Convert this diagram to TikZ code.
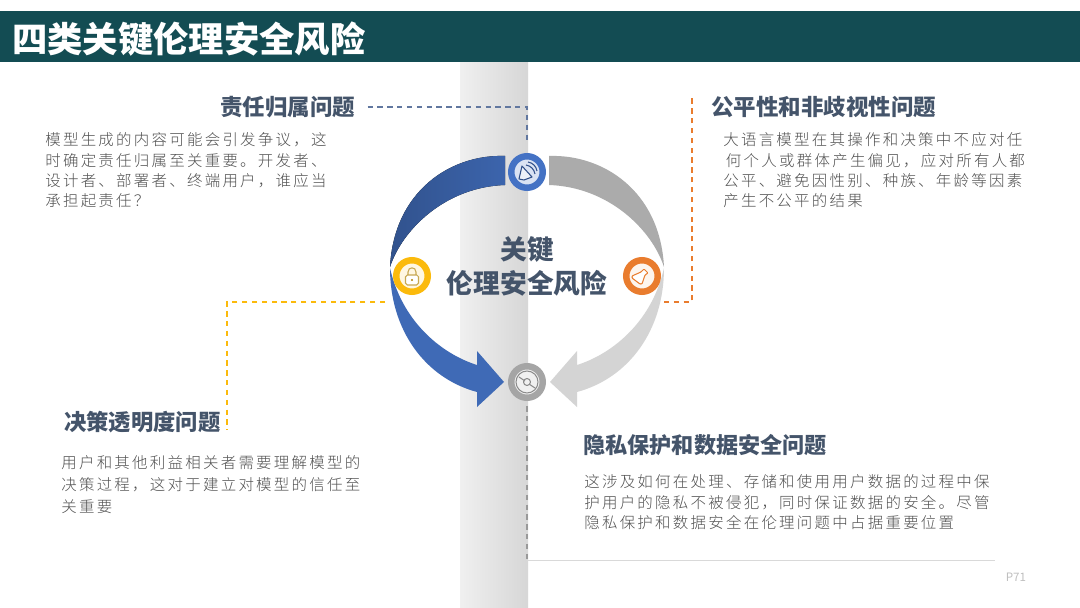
\documentclass[tikz,border=0pt]{standalone}
\usepackage{fontspec}
\setmainfont{Noto Sans CJK SC}
\newfontfamily\bodyfont[LetterSpace=14.6,UprightFont=* Light]{Noto Sans CJK SC}
\usetikzlibrary{positioning}
\definecolor{barteal}{HTML}{134C53}
\definecolor{headgray}{HTML}{44546A}
\definecolor{bodygray}{HTML}{505050}
\definecolor{ringblue}{HTML}{4472C4}
\definecolor{ringyellow}{HTML}{FBBA0C}
\definecolor{ringorange}{HTML}{E97C2E}
\definecolor{ringgray}{HTML}{A5A5A5}
\tikzset{
  headtext/.style={font=\bfseries\fontsize{12.8}{15}\selectfont,text=headgray,inner sep=0,anchor=west},
  bodytext/.style={font=\bodyfont\fontsize{8.8}{11.6}\selectfont,text=bodygray,inner sep=0,anchor=north west,align=left},
  ringnode/.style={circle,minimum size=.63cm,line width=.13cm,inner sep=0},
  dashline/.style={line width=.65pt,dash pattern=on 3pt off 2.6pt},
  iconline/.style={line width=.6pt,line join=round},
}
\begin{document}
\begin{tikzpicture}[x=.02cm,y=-.02cm]
\useasboundingbox (0,0) rectangle (1080,608);
\fill[white] (0,0) rectangle (1080,608);
% column behind the rings
\shade[left color=black!6,middle color=black!7,right color=black!16] (460,63) rectangle (528,608);
\fill[barteal] (0,11) rectangle (1080,62.5);
\node[font=\bfseries\fontsize{20.1}{24}\selectfont,text=white,inner sep=0,anchor=west] (pageTitle) at (12,39.5) {四类关键伦理安全风险};
% arrows of the ring
\fill[left color=ringblue!72!black,right color=ringblue!88!black]
  (505,156) .. controls (452,154) and (394,190) .. (390,267)
  .. controls (402,230) and (445,187) .. (505,185) -- cycle;
\fill[ringblue!93!black]
  (390,268) .. controls (390,330) and (425,378) .. (477,392) -- (477,407) -- (504,382) -- (477,351) -- (477,365)
  .. controls (445,355) and (403,325) .. (390,268) -- cycle;
\fill[black!33]
  (549,156) .. controls (602,154) and (660,190) .. (664,267)
  .. controls (652,230) and (609,187) .. (549,185) -- cycle;
\fill[black!17]
  (664,268) .. controls (664,330) and (629,378) .. (577,392) -- (577,407) -- (550,382) -- (577,351) -- (577,365)
  .. controls (609,355) and (651,325) .. (664,268) -- cycle;
% rings
\node[ringnode,draw=ringblue,fill=ringblue!20] (iconBlue) at (527,172) {};
\node[ringnode,draw=ringyellow,fill=ringyellow!12] (iconYellow) at (412,276) {};
\node[ringnode,draw=ringorange,fill=ringorange!8] (iconOrange) at (642,276) {};
\node[ringnode,draw=ringgray,fill=black!6] (iconGray) at (527,382) {};
% speaker
\draw[iconline,ringblue!70!black,fill=ringblue!10] (522,166) -- (532,177) -- (524,180) -- (519,179) -- cycle;
\draw[iconline,ringblue!70!black] (526,165) .. controls (531,166) and (534,169) .. (535,174);
\draw[iconline,ringblue!70!black] (528,162) .. controls (533,163) and (536,166) .. (537,171);
% lock
\draw[iconline,ringyellow!70!black!70!white,fill=white,rounded corners=1pt] (405.5,275) rectangle (418.5,285);
\draw[iconline,ringyellow!70!black!70!white] (408,275) -- (408,272) .. controls (408,266.5) and (416,266.5) .. (416,272) -- (416,275);
\fill[ringyellow!70!black] (412,280) circle (1.2);
% flask
\draw[iconline,ringorange,fill=white,rounded corners=.5pt] (644,269) -- (648,273) -- (645,275) -- (642,284) -- (640,284) -- (632,278) -- (632,276) -- (641,272) -- cycle;
% disc
\draw[iconline,black!45] (527,382) circle (11);
\draw[iconline,black!45] (527,382) circle (3.5);
\draw[iconline,black!45] (519,377) -- (525,381);
\draw[iconline,black!45] (529,384) -- (535,388);
% center text
\node[font=\bfseries\fontsize{15.2}{18}\selectfont,text=headgray,inner sep=0] (ringMainA) at (527,249) {关键};
\node[font=\bfseries\fontsize{15.2}{18}\selectfont,text=headgray,inner sep=0] (ringMainB) at (527,283) {伦理安全风险};
% headings
\node[headtext] (respTitle) at (220,107) {责任归属问题};
\node[headtext] (fairTitle) at (711,107) {公平性和非歧视性问题};
\node[headtext,font=\bfseries\fontsize{12.7}{15}\selectfont] (transTitle) at (64,422) {决策透明度问题};
\node[headtext,font=\bfseries\fontsize{12.6}{15}\selectfont] (privTitle) at (583,445) {隐私保护和数据安全问题};
% body text
\node[bodytext] (respBody) at (45,132.5) {模型生成的内容可能会引发争议，这\\时确定责任归属至关重要。开发者、\\设计者、部署者、终端用户，谁应当\\承担起责任？};
\node[bodytext] (fairBody) at (723,132.5) {大语言模型在其操作和决策中不应对任\\\hspace*{1.5pt}何个人或群体产生偏见，应对所有人都\\公平、避免因性别、种族、年龄等因素\\产生不公平的结果};
\node[bodytext,font=\bodyfont\fontsize{8.8}{12.5}\selectfont] (transBody) at (61,455.5) {用户和其他利益相关者需要理解模型的\\决策过程，这对于建立对模型的信任至\\关重要};
\node[bodytext] (privBody) at (584,474.5) {这涉及如何在处理、存储和使用用户数据的过程中保\\护用户的隐私不被侵犯，同时保证数据的安全。尽管\\隐私保护和数据安全在伦理问题中占据重要位置};
% dashed connectors
\coordinate (fairStart) at (664,302);
\coordinate (fairEnd) at (692,98);
\coordinate (transStart) at (385,302);
\coordinate (transEnd) at (227,430);
\coordinate (ruleCorner) at (527,560);
\coordinate (ruleEnd) at (995,560);
\draw[dashline,ringblue!65!black!75!white,shorten <=6.8pt,shorten >=6.3pt] (respTitle.east) -| (iconBlue.north);
\draw[dashline,ringorange] (fairStart) -| (fairEnd);
\draw[dashline,ringyellow] (transStart) -| (transEnd);
\draw[dashline,black!40,shorten <=3pt] (iconGray.south) -- (ruleCorner);
\draw[line width=.5pt,black!15] (ruleCorner) -- (ruleEnd);
\node[font=\fontsize{6.6}{8}\selectfont,text=black!25,inner sep=0] (pageNum) at (1016,577) {P71};
\end{tikzpicture}
\end{document}
